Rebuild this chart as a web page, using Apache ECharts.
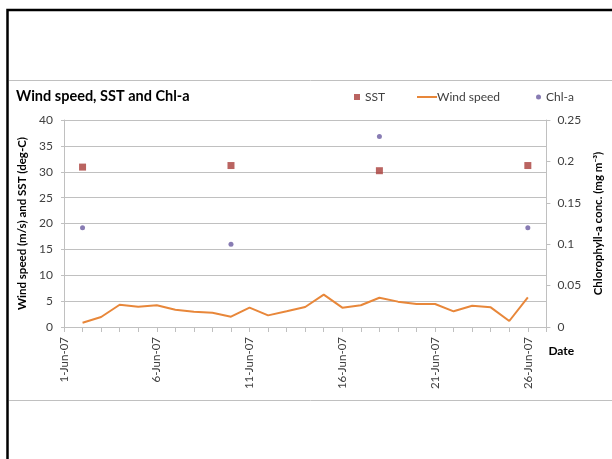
<!DOCTYPE html>
<html>
<head>
<meta charset="utf-8">
<script src="https://cdn.jsdelivr.net/npm/echarts@6/dist/echarts.min.js"></script>
<style>
  html, body { margin: 0; padding: 0; background: #ffffff; }
  #chart { width: 612px; height: 459px; }
</style>
</head>
<body>
<div id="chart"></div>
<script>
// ---- Data ----
var categories = ['1-Jun-07','2-Jun-07','3-Jun-07','4-Jun-07','5-Jun-07','6-Jun-07','7-Jun-07','8-Jun-07','9-Jun-07',
  '10-Jun-07','11-Jun-07','12-Jun-07','13-Jun-07','14-Jun-07','15-Jun-07','16-Jun-07','17-Jun-07','18-Jun-07',
  '19-Jun-07','20-Jun-07','21-Jun-07','22-Jun-07','23-Jun-07','24-Jun-07','25-Jun-07','26-Jun-07','27-Jun-07'];

var windSpeed = [null, 0.83, 1.93, 4.3, 3.93, 4.19, 3.35, 2.96, 2.77, 2.0, 3.74, 2.25, 3.03, 3.87, 6.25,
  3.74, 4.2, 5.66, 4.9, 4.44, 4.44, 3.03, 4.12, 3.8, 1.16, 5.73, null];

var sampleDays = ['2-Jun-07', '10-Jun-07', '18-Jun-07', '26-Jun-07'];
var sstValues = [30.9, 31.2, 30.2, 31.2];
var chlValues = [0.12, 0.10, 0.23, 0.12];

var leftTicks = { min: 0, max: 40, interval: 5 };
var rightTicks = { min: 0, max: 0.25, interval: 0.05 };

var FONT = 'Lato, "Liberation Sans", sans-serif';
var TXT = '#404040';
var GRID = '#C0C0C0';

var chart = echarts.init(document.getElementById('chart'), null, { renderer: 'canvas' });

var legendText = { color: TXT, fontSize: 12, fontFamily: FONT };

chart.setOption({
  backgroundColor: '#ffffff',
  animation: false,
  title: {
    text: 'Wind speed, SST and Chl-a',
    left: 11, top: 84,
    textStyle: { fontFamily: FONT, fontWeight: 'bold', fontSize: 14.5, color: '#000000' }
  },
  legend: [
    { data: [{ name: 'SST', icon: 'rect' }], left: 354, top: 91, itemWidth: 6, itemHeight: 6,
      textStyle: legendText, padding: 0 },
    { data: [{ name: 'Wind speed', icon: 'rect' }], left: 417, top: 91, itemWidth: 20, itemHeight: 2,
      textStyle: Object.assign({ padding: [0, 0, 0, -5] }, legendText), padding: 0 },
    { data: [{ name: 'Chl-a', icon: 'circle' }], left: 536, top: 91, itemWidth: 5, itemHeight: 5,
      textStyle: legendText, padding: 0 }
  ],
  grid: { left: 64, right: 62, top: 120, bottom: 132, containLabel: false },
  xAxis: {
    type: 'category',
    data: categories,
    boundaryGap: false,
    name: 'Date',
    nameLocation: 'end',
    nameGap: 2,
    nameTextStyle: { fontFamily: FONT, fontWeight: 'bold', fontSize: 12, color: '#000000',
      align: 'left', verticalAlign: 'top', padding: [18, 0, 0, 0] },
    axisLine: { lineStyle: { color: GRID, width: 1 } },
    axisTick: { show: true, interval: 0, length: 5, lineStyle: { color: GRID } },
    axisLabel: { interval: 4, rotate: 90, margin: 10, color: TXT, fontSize: 11.5, fontFamily: FONT },
    splitLine: { show: false }
  },
  yAxis: [
    {
      type: 'value',
      min: leftTicks.min, max: leftTicks.max, interval: leftTicks.interval,
      name: 'Wind speed (m/s) and SST (deg-C)',
      nameLocation: 'middle', nameRotate: 90, nameGap: 29,
      nameTextStyle: { fontFamily: FONT, fontWeight: 'bold', fontSize: 11.5, color: '#000000' },
      axisLine: { show: true, lineStyle: { color: GRID } },
      axisTick: { show: true, length: 3, lineStyle: { color: GRID } },
      axisLabel: { color: TXT, fontSize: 12, fontFamily: FONT, margin: 11 },
      splitLine: { show: true, lineStyle: { color: GRID, width: 1 } }
    },
    {
      type: 'value',
      position: 'right',
      min: rightTicks.min, max: rightTicks.max, interval: rightTicks.interval,
      name: 'Chlorophyll-a conc. (mg m\u207B\u00B3)',
      nameLocation: 'middle', nameRotate: 90, nameGap: 41,
      nameTextStyle: { fontFamily: FONT, fontWeight: 'bold', fontSize: 11.5, color: '#000000' },
      axisLine: { show: true, lineStyle: { color: GRID } },
      axisTick: { show: true, length: 4, lineStyle: { color: GRID } },
      axisLabel: { color: TXT, fontSize: 12, fontFamily: FONT, margin: 11 },
      splitLine: { show: false }
    }
  ],
  series: [
    {
      name: 'SST', type: 'scatter', yAxisIndex: 0,
      symbol: 'rect', symbolSize: 7,
      itemStyle: { color: '#A93D3A' },
      data: sampleDays.map(function (d, i) { return [d, sstValues[i]]; })
    },
    {
      name: 'Wind speed', type: 'line', yAxisIndex: 0,
      showSymbol: false, symbol: 'none',
      lineStyle: { color: '#E8873A', width: 2 },
      itemStyle: { color: '#E8873A' },
      data: windSpeed
    },
    {
      name: 'Chl-a', type: 'scatter', yAxisIndex: 1,
      symbol: 'circle', symbolSize: 5,
      itemStyle: { color: '#6A5BA0' },
      data: sampleDays.map(function (d, i) { return [d, chlValues[i]]; })
    }
  ],
  graphic: [
    { type: 'rect', silent: true, z: -1,
      shape: { x: 7.5, y: 10, width: 700, height: 600 },
      style: { fill: null, stroke: '#000000', lineWidth: 2.5 } },
    { type: 'line', silent: true,
      shape: { x1: 9, y1: 80.5, x2: 612, y2: 80.5 },
      style: { stroke: '#C0C0C0', lineWidth: 1 } },
    { type: 'line', silent: true,
      shape: { x1: 9, y1: 400.5, x2: 612, y2: 400.5 },
      style: { stroke: '#C0C0C0', lineWidth: 1 } }
  ]
});
</script>
</body>
</html>
